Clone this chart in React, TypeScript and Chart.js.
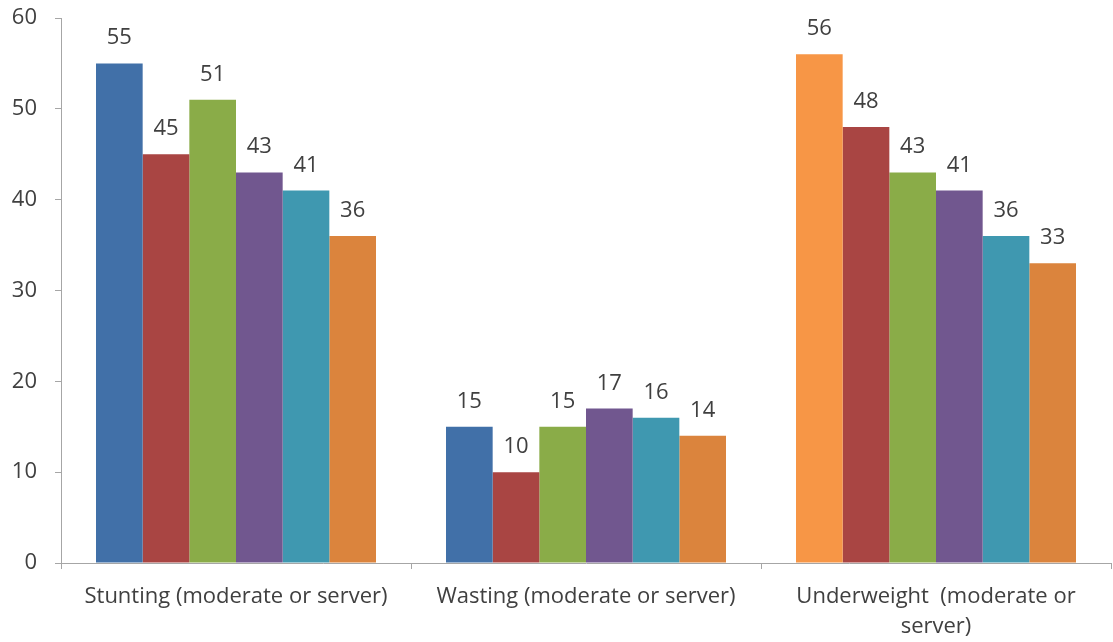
import React, { useEffect, useRef } from "react";
import { Chart, registerables } from "chart.js";

Chart.register(...registerables);

// Indicator categories shown on the x axis
const categories: (string | string[])[] = [
  "Stunting (moderate or server)",
  "Wasting (moderate or server)",
  ["Underweight  (moderate or", "server)"],
];

// Six survey rounds, one value per indicator
const round1 = [55, 15, 56];
const round2 = [45, 10, 48];
const round3 = [51, 15, 43];
const round4 = [43, 17, 41];
const round5 = [41, 16, 36];
const round6 = [36, 14, 33];

const yTicks = [0, 10, 20, 30, 40, 50, 60];

const FONT = "'Open Sans', 'DejaVu Sans', sans-serif";
const FONT_SIZE = 22;
const TEXT = "#404040";

// Writes each bar's value above it
const valueLabels = {
  id: "valueLabels",
  afterDatasetsDraw(chart: any) {
    const ctx = chart.ctx;
    ctx.save();
    ctx.font = `${FONT_SIZE}px ${FONT}`;
    ctx.fillStyle = TEXT;
    ctx.textAlign = "center";
    ctx.textBaseline = "alphabetic";
    chart.data.datasets.forEach((ds: any, i: number) => {
      const meta = chart.getDatasetMeta(i);
      meta.data.forEach((bar: any, j: number) => {
        ctx.fillText(String(ds.data[j]), bar.x, bar.y - 19);
      });
    });
    ctx.restore();
  },
};

export default function App() {
  const canvasRef = useRef<HTMLCanvasElement | null>(null);

  useEffect(() => {
    if (!canvasRef.current) return;
    const series = [
      { data: round1, color: ["#4170a8", "#4170a8", "#f79646"] },
      { data: round2, color: "#a94543" },
      { data: round3, color: "#8aac48" },
      { data: round4, color: "#71578f" },
      { data: round5, color: "#3f98b0" },
      { data: round6, color: "#db843d" },
    ];
    const chart = new Chart(canvasRef.current, {
      type: "bar",
      data: {
        labels: categories,
        datasets: series.map((s, i) => ({
          label: `Round ${i + 1}`,
          data: s.data,
          backgroundColor: s.color,
          borderWidth: 0,
        })),
      },
      options: {
        animation: false,
        responsive: true,
        maintainAspectRatio: false,
        layout: { padding: { top: 18, right: 2, left: 0, bottom: 0 } },
        plugins: {
          legend: { display: false },
          tooltip: { enabled: false },
        },
        datasets: {
          bar: { categoryPercentage: 0.8, barPercentage: 1.0 },
        },
        scales: {
          x: {
            grid: {
              offset: true,
              drawOnChartArea: false,
              drawTicks: true,
              tickLength: 6,
              color: "#a6a6a6",
            },
            border: { color: "#a6a6a6", width: 1 },
            ticks: {
              color: TEXT,
              font: { family: FONT, size: FONT_SIZE, lineHeight: 1.4 },
              padding: 12,
              maxRotation: 0,
              autoSkip: false,
            },
            afterFit(scale: any) {
              scale.height = 79;
              scale.paddingLeft = 0;
              scale.paddingRight = 0;
            },
          },
          y: {
            min: 0,
            max: 60,
            afterBuildTicks(scale: any) {
              scale.ticks = yTicks.map((v) => ({ value: v }));
            },
            grid: {
              drawOnChartArea: false,
              drawTicks: true,
              tickLength: 6,
              color: "#a6a6a6",
            },
            border: { color: "#a6a6a6", width: 1 },
            ticks: {
              color: TEXT,
              font: { family: FONT, size: FONT_SIZE },
              padding: 18,
            },
            afterFit(scale: any) {
              scale.width = 61;
              scale.paddingTop = 0;
              scale.paddingBottom = 0;
            },
          },
        },
      },
      plugins: [valueLabels],
    });
    return () => chart.destroy();
  }, []);

  return (
    <div style={{ position: "fixed", inset: 0, background: "#ffffff" }}>
      <canvas ref={canvasRef} />
    </div>
  );
}
